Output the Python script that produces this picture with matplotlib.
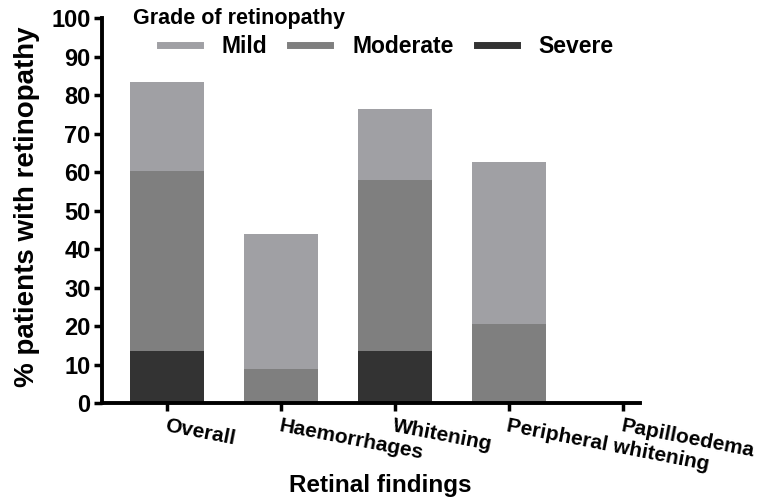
import numpy as np
import matplotlib.pyplot as plt
from matplotlib.lines import Line2D

plt.rcParams['font.family'] = ['Liberation Sans', 'DejaVu Sans']
plt.rcParams['font.weight'] = 'bold'

findings = ['Overall', 'Haemorrhages', 'Whitening', 'Peripheral whitening', 'Papilloedema']
severe = [13.5, 0, 13.5, 0, 0]
moderate = [46.7, 8.8, 44.3, 20.5, 0]
mild = [23.2, 35.1, 18.6, 42.0, 0]

grades = ['Mild', 'Moderate', 'Severe']
colors = {'Mild': '#a0a0a4', 'Moderate': '#7f7f7f', 'Severe': '#333333'}

x = np.arange(len(findings))
w = 0.65

fig = plt.figure(figsize=(7.6, 5.03), dpi=100)
ax = fig.add_axes([0.134, 0.1988, 0.708, 0.7654])

sev = np.array(severe)
mod = np.array(moderate)
mil = np.array(mild)
ax.bar(x, sev, w, color=colors['Severe'])
ax.bar(x, mod, w, bottom=sev, color=colors['Moderate'])
ax.bar(x, mil, w, bottom=sev + mod, color=colors['Mild'])

ax.set_xlim(-0.57, 4.15)
ax.set_ylim(0, 100)
ax.set_yticks(range(0, 101, 10))
ax.tick_params(axis='y', labelsize=17, width=2.5, length=6, pad=2, direction='out')
ax.tick_params(axis='x', width=2.5, length=6, direction='out')
for lab in ax.get_yticklabels():
    lab.set_fontweight('bold')

ax.set_xticks(x)
ax.set_xticklabels(findings, rotation=-11, ha='left', rotation_mode='anchor',
                   fontsize=15, fontweight='bold')

for s in ['top', 'right']:
    ax.spines[s].set_visible(False)
for s in ['left', 'bottom']:
    ax.spines[s].set_linewidth(2.8)

ax.set_ylabel('% patients with retinopathy', fontsize=20, fontweight='bold')
ax.yaxis.set_label_coords(-0.115, 0.51)
ax.set_xlabel('Retinal findings', fontsize=17.5, fontweight='bold')
ax.xaxis.set_label_coords(0.517, -0.185)

# legend: title drawn separately so it sits left of the handles
ax.text(0.057, 1.0, 'Grade of retinopathy', transform=ax.transAxes,
        ha='left', va='center', fontsize=15.5, fontweight='bold')
handles = [Line2D([0], [0], color=colors[g], lw=5) for g in grades]
leg = ax.legend(handles, grades, ncol=3, frameon=False,
                loc='upper left', bbox_to_anchor=(0.108, 0.955),
                borderaxespad=0, borderpad=0, fontsize=16.5,
                handlelength=1.75, columnspacing=1.0, handletextpad=0.95)
for t in leg.get_texts():
    t.set_fontweight('bold')

plt.savefig('out.png', dpi=100)
